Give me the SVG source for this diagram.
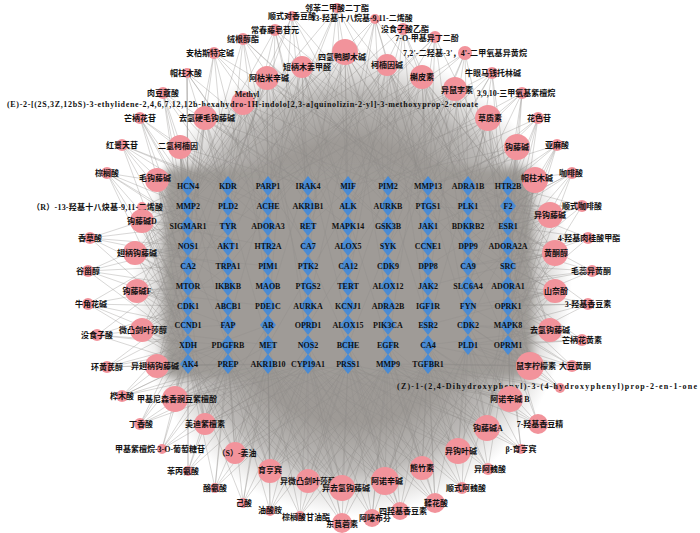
<svg xmlns="http://www.w3.org/2000/svg" width="700" height="533" viewBox="0 0 700 533">
<defs>
<style>
.e path{fill:none;stroke:#8e8c8a;stroke-width:.5;stroke-opacity:.7}
.n circle{fill:#f2939b}
.t use{fill:#4a8bd4}
.tl{font:bold 8px "Liberation Serif",serif;text-anchor:middle;fill:#111}
.cl{font:bold 8px "Liberation Serif","Noto Sans CJK SC",sans-serif;text-anchor:middle;fill:#111}
.st{text-anchor:start}
</style>
<radialGradient id="gd">
<stop offset="0" stop-color="#9c9894" stop-opacity="1"/>
<stop offset=".6" stop-color="#9e9a96" stop-opacity="1"/>
<stop offset=".8" stop-color="#a6a3a0" stop-opacity=".75"/>
<stop offset=".92" stop-color="#b4b1ae" stop-opacity=".3"/>
<stop offset="1" stop-color="#b8b5b3" stop-opacity="0"/>
</radialGradient>
<filter id="bl" x="-10%" y="-10%" width="120%" height="120%"><feGaussianBlur stdDeviation="4"/></filter>
<path id="dm" d="M0-10L8 0 0 10-8 0Z"/>
</defs>
<rect width="700" height="533" fill="#fff"/>
<ellipse cx="352" cy="282" rx="220" ry="235" fill="url(#gd)"/>
<rect x="164" y="168" width="368" height="210" rx="8" fill="#9f9b97" filter="url(#bl)"/>
<g id="edges" class="e">
<path d="M337 8L188 186M337 8L268 186M337 8L348 206M337 8L428 186M337 8L508 226M337 8L308 266M337 8L388 306M337 8L228 246"/>
<path d="M292 16L228 186M292 16L308 206M292 16L388 186M292 16L468 226M292 16L188 246M292 16L348 286M292 16L268 325"/>
<path d="M375 19L188 206M375 19L268 186M375 19L348 186M375 19L428 206M375 19L508 186M375 19L388 266M375 19L308 306M375 19L468 325"/>
<path d="M275 30L188 186M275 30L228 226M275 30L308 186M275 30L388 206M275 30L468 186M275 30L268 286M275 30L348 325"/>
<path d="M403 29L228 186M403 29L308 226M403 29L388 186M403 29L468 206M403 29L508 266M403 29L348 246M403 29L428 306"/>
<path d="M435 37L268 206M435 37L348 186M435 37L428 226M435 37L508 186M435 37L468 286M435 37L388 345M435 37L188 266"/>
<path d="M243 39L188 226M243 39L228 186M243 39L268 246M243 39L348 186M243 39L428 206M243 39L308 306M243 39L508 286"/>
<path d="M345 52L188 186M345 52L228 206M345 52L268 186M345 52L308 226M345 52L348 186M345 52L388 206M345 52L428 186M345 52L468 246M345 52L508 206M345 52L348 266M345 52L268 306M345 52L428 325"/>
<path d="M465 53L228 206M465 53L308 186M465 53L388 226M465 53L468 186M465 53L508 246M465 53L428 286M465 53L348 345"/>
<path d="M214 53L188 186M214 53L188 246M214 53L228 206M214 53L308 186M214 53L388 226M214 53L268 266M214 53L468 206"/>
<path d="M302 67L188 206M302 67L228 186M302 67L268 226M302 67L308 186M302 67L348 206M302 67L388 186M302 67L428 226M302 67L468 186M302 67L508 266M302 67L308 286M302 67L228 325M302 67L388 345"/>
<path d="M387 65L188 186M387 65L268 206M387 65L308 186M387 65L348 226M387 65L388 186M387 65L428 206M387 65L468 186M387 65L508 226M387 65L348 286M387 65L428 325M387 65L228 266M387 65L508 345"/>
<path d="M492 73L268 186M492 73L348 206M492 73L428 186M492 73L468 226M492 73L508 186M492 73L508 286M492 73L388 246"/>
<path d="M187 73L188 186M187 73L188 226M187 73L228 206M187 73L268 186M187 73L308 246M187 73L188 286M187 73L348 206"/>
<path d="M267 78L188 206M267 78L228 186M267 78L268 206M267 78L308 186M267 78L348 246M267 78L388 206M267 78L428 186M267 78L268 266M267 78L188 306M267 78L468 226M267 78L308 345"/>
<path d="M422 77L228 186M422 77L308 206M422 77L348 186M422 77L388 226M422 77L428 186M422 77L468 206M422 77L508 186M422 77L508 246M422 77L428 266M422 77L348 306M422 77L268 345M422 77L468 325"/>
<path d="M455 89L268 186M455 89L308 226M455 89L348 206M455 89L388 186M455 89L428 206M455 89L468 186M455 89L508 206M455 89L508 266M455 89L468 306M455 89L388 286M455 89L308 325"/>
<path d="M522 93L348 186M522 93L388 206M522 93L428 186M522 93L468 206M522 93L508 186M522 93L508 226M522 93L508 306"/>
<path d="M163 93L188 186M163 93L188 226M163 93L228 186M163 93L268 206M163 93L188 266M163 93L308 186M163 93L228 286"/>
<path d="M243 103L188 186M243 103L188 206M243 103L228 186M243 103L228 226M243 103L268 186M243 103L308 206M243 103L348 186M243 103L388 226M243 103L188 286M243 103L268 306M243 103L428 186M243 103L348 345"/>
<path d="M205 118L188 186M205 118L188 206M205 118L188 246M205 118L228 186M205 118L228 226M205 118L268 206M205 118L308 186M205 118L188 306M205 118L348 226M205 118L268 345M205 118L388 186"/>
<path d="M488 118L308 186M488 118L348 206M488 118L388 186M488 118L428 206M488 118L468 186M488 118L508 186M488 118L508 226M488 118L508 286M488 118L468 246M488 118L428 325M488 118L508 345"/>
<path d="M140 118L188 186M140 118L188 206M140 118L188 246M140 118L228 186M140 118L268 206M140 118L188 286M140 118L228 266"/>
<path d="M538 118L388 186M538 118L428 206M538 118L468 186M538 118L508 206M538 118L508 246M538 118L468 286M538 118L508 325"/>
<path d="M180 147L188 186M180 147L188 206M180 147L188 226M180 147L188 266M180 147L228 186M180 147L228 206M180 147L268 226M180 147L188 306M180 147L308 186M180 147L228 345M180 147L188 364"/>
<path d="M122 145L188 186M122 145L188 226M122 145L188 206M122 145L228 186M122 145L188 266M122 145L188 325M122 145L268 206"/>
<path d="M517 147L348 186M517 147L388 206M517 147L428 186M517 147L468 206M517 147L508 186M517 147L508 206M517 147L508 226M517 147L508 266M517 147L468 286M517 147L508 325M517 147L428 246"/>
<path d="M557 145L428 186M557 145L468 206M557 145L508 186M557 145L508 226M557 145L508 266M557 145L468 325M557 145L508 306"/>
<path d="M572 173L468 186M572 173L508 206M572 173L508 246M572 173L468 226M572 173L508 286M572 173L428 266M572 173L508 345"/>
<path d="M107 173L188 186M107 173L188 226M107 173L188 206M107 173L188 266M107 173L228 246M107 173L188 345M107 173L188 306"/>
<path d="M157 180L188 186M157 180L188 206M157 180L188 226M157 180L188 246M157 180L188 286M157 180L228 206M157 180L228 266M157 180L188 325M157 180L268 226M157 180L188 364M157 180L228 345"/>
<path d="M535 180L468 186M535 180L508 186M535 180L508 206M535 180L468 206M535 180L508 226M535 180L508 246M535 180L468 266M535 180L508 286M535 180L508 325M535 180L428 226M535 180L508 345"/>
<path d="M142 207L188 186M142 207L188 206M142 207L188 226M142 207L188 266M142 207L228 226M142 207L188 325M142 207L188 364"/>
<path d="M582 206L468 206M582 206L508 186M582 206L508 226M582 206L508 206M582 206L508 266M582 206L468 246M582 206L508 325"/>
<path d="M550 215L468 186M550 215L508 186M550 215L508 206M550 215L508 226M550 215L468 226M550 215L508 246M550 215L508 266M550 215L468 286M550 215L508 306M550 215L508 345M550 215L428 206"/>
<path d="M142 221L188 186M142 221L188 206M142 221L188 226M142 221L188 246M142 221L188 266M142 221L188 306M142 221L228 226M142 221L228 286M142 221L188 345M142 221L188 364M142 221L268 246"/>
<path d="M90 238L188 206M90 238L188 226M90 238L188 246M90 238L188 286M90 238L188 325M90 238L228 266"/>
<path d="M588 238L508 206M588 238L508 226M588 238L508 246M588 238L508 266M588 238L508 306M588 238L468 266"/>
<path d="M135 253L188 186M135 253L188 226M135 253L188 246M135 253L188 266M135 253L188 286M135 253L188 325M135 253L228 246M135 253L228 306M135 253L188 364M135 253L268 266M135 253L188 206"/>
<path d="M555 253L508 186M555 253L508 226M555 253L508 246M555 253L508 266M555 253L508 286M555 253L468 266M555 253L508 325M555 253L468 206M555 253L508 345M555 253L428 286"/>
<path d="M88 271L188 226M88 271L188 246M88 271L188 266M88 271L188 286M88 271L188 306M88 271L188 345"/>
<path d="M592 271L508 226M592 271L508 246M592 271L508 266M592 271L508 286M592 271L508 306M592 271L468 286"/>
<path d="M137 291L188 206M137 291L188 246M137 291L188 266M137 291L188 286M137 291L188 306M137 291L188 325M137 291L188 345M137 291L228 286M137 291L228 325M137 291L188 364M137 291L268 306"/>
<path d="M555 291L508 206M555 291L508 246M555 291L508 266M555 291L508 286M555 291L508 306M555 291L508 325M555 291L468 306M555 291L508 345M555 291L468 246M555 291L428 325"/>
<path d="M88 304L188 246M88 304L188 286M88 304L188 306M88 304L188 325M88 304L188 345M88 304L188 364"/>
<path d="M588 304L508 246M588 304L508 286M588 304L508 306M588 304L508 325M588 304L508 345M588 304L468 306"/>
<path d="M550 330L508 226M550 330L508 266M550 330L508 286M550 330L508 306M550 330L508 325M550 330L508 345M550 330L468 325M550 330L468 345M550 330L428 345M550 330L508 206"/>
<path d="M142 330L188 226M142 330L188 266M142 330L188 286M142 330L188 306M142 330L188 325M142 330L188 345M142 330L188 364M142 330L228 325M142 330L228 364M142 330L268 345M142 330L228 266"/>
<path d="M97 335L188 266M97 335L188 306M97 335L188 325M97 335L188 345M97 335L188 364M97 335L228 345"/>
<path d="M582 340L508 286M582 340L508 306M582 340L508 325M582 340L508 345M582 340L468 345M582 340L468 325"/>
<path d="M107 367L188 306M107 367L188 325M107 367L188 345M107 367L188 364M107 367L228 364M107 367L228 345"/>
<path d="M157 366L188 286M157 366L188 325M157 366L188 345M157 366L188 364M157 366L228 345M157 366L228 364M157 366L268 364M157 366L188 246M157 366L268 325M157 366L308 364"/>
<path d="M530 366L508 266M530 366L508 306M530 366L508 325M530 366L508 345M530 366L468 345M530 366L468 325M530 366L428 345M530 366L428 364M530 366L388 364M530 366L508 226"/>
<path d="M572 366L508 306M572 366L508 325M572 366L508 345M572 366L468 345M572 366L428 364M572 366L468 306"/>
<path d="M560 388L508 325M560 388L508 345M560 388L468 345M560 388L428 364M560 388L388 364M560 388L468 325"/>
<path d="M510 399L508 306M510 399L508 345M510 399L468 325M510 399L468 345M510 399L428 345M510 399L428 364M510 399L388 364M510 399L348 364M510 399L508 266M510 399L308 364"/>
<path d="M175 399L188 325M175 399L188 345M175 399L188 364M175 399L228 345M175 399L228 364M175 399L268 364M175 399L188 286M175 399L308 364M175 399L268 345M175 399L348 364"/>
<path d="M122 396L188 325M122 396L188 345M122 396L188 364M122 396L228 364M122 396L268 364M122 396L228 345"/>
<path d="M140 424L188 345M140 424L188 364M140 424L228 364M140 424L268 364M140 424L188 325M140 424L308 364"/>
<path d="M538 424L508 325M538 424L508 345M538 424L468 345M538 424L428 345M538 424L428 364M538 424L388 364"/>
<path d="M487 428L508 306M487 428L508 345M487 428L468 325M487 428L468 345M487 428L428 345M487 428L428 364M487 428L388 364M487 428L348 364M487 428L308 364M487 428L508 266M487 428L388 345"/>
<path d="M205 424L188 325M205 424L188 345M205 424L188 364M205 424L228 345M205 424L228 364M205 424L268 364M205 424L308 364M205 424L268 325M205 424L348 364M205 424L188 286"/>
<path d="M162 449L188 345M162 449L188 364M162 449L228 364M162 449L268 364M162 449L308 364M162 449L228 345"/>
<path d="M521 449L468 345M521 449L508 345M521 449L428 364M521 449L388 364M521 449L348 364M521 449L508 325"/>
<path d="M458 451L508 325M458 451L468 345M458 451L428 345M458 451L428 364M458 451L388 364M458 451L348 364M458 451L308 364M458 451L388 345M458 451L468 306M458 451L268 364"/>
<path d="M488 469L508 345M488 469L468 345M488 469L428 364M488 469L388 364M488 469L348 364M488 469L428 345"/>
<path d="M235 453L188 345M235 453L188 364M235 453L228 364M235 453L268 364M235 453L308 364M235 453L348 364M235 453L228 345M235 453L268 325M235 453L388 364M235 453L308 345"/>
<path d="M188 471L188 364M188 471L228 364M188 471L268 364M188 471L308 364M188 471L188 345M188 471L228 345"/>
<path d="M422 468L428 364M422 468L388 364M422 468L348 364M422 468L308 364M422 468L268 364M422 468L428 345M422 468L468 345M422 468L388 345M422 468L348 345M422 468L508 345"/>
<path d="M270 471L188 364M270 471L228 364M270 471L268 364M270 471L308 364M270 471L348 364M270 471L388 364M270 471L228 345M270 471L308 345M270 471L268 345M270 471L428 364"/>
<path d="M462 488L428 364M462 488L388 364M462 488L348 364M462 488L468 345M462 488L308 364M462 488L508 345"/>
<path d="M308 481L188 364M308 481L228 364M308 481L268 364M308 481L308 364M308 481L348 364M308 481L388 364M308 481L428 364M308 481L268 345M308 481L348 345M308 481L188 345"/>
<path d="M385 481L228 364M385 481L268 364M385 481L308 364M385 481L348 364M385 481L388 364M385 481L428 364M385 481L348 345M385 481L428 345M385 481L468 345M385 481L308 345M385 481L508 345"/>
<path d="M342 488L188 364M342 488L228 364M342 488L268 364M342 488L308 364M342 488L348 364M342 488L388 364M342 488L428 364M342 488L308 345M342 488L388 345M342 488L228 345"/>
<path d="M215 488L188 364M215 488L228 364M215 488L268 364M215 488L308 364M215 488L228 345M215 488L348 364"/>
<path d="M243 503L188 364M243 503L228 364M243 503L268 364M243 503L308 364M243 503L348 364M243 503L268 345"/>
<path d="M435 503L348 364M435 503L388 364M435 503L428 364M435 503L308 364M435 503L268 364M435 503L468 345M435 503L428 345M435 503L388 345"/>
<path d="M270 511L228 364M270 511L268 364M270 511L308 364M270 511L348 364M270 511L388 364M270 511L268 345"/>
<path d="M300 516L228 364M300 516L268 364M300 516L308 364M300 516L348 364M300 516L388 364M300 516L428 364"/>
<path d="M400 511L268 364M400 511L308 364M400 511L348 364M400 511L388 364M400 511L428 364M400 511L348 345M400 511L468 345"/>
<path d="M342 523L228 364M342 523L268 364M342 523L308 364M342 523L348 364M342 523L388 364M342 523L428 364M342 523L308 345"/>
<path d="M372 518L268 364M372 518L308 364M372 518L348 364M372 518L388 364M372 518L428 364M372 518L388 345"/>
</g>
<g id="targets" class="t">
<g id="t-HCN4"><use href="#dm" x="188" y="186"/><text class="tl" x="188" y="189">HCN4</text></g>
<g id="t-KDR"><use href="#dm" x="228" y="186"/><text class="tl" x="228" y="189">KDR</text></g>
<g id="t-PARP1"><use href="#dm" x="268" y="186"/><text class="tl" x="268" y="189">PARP1</text></g>
<g id="t-IRAK4"><use href="#dm" x="308" y="186"/><text class="tl" x="308" y="189">IRAK4</text></g>
<g id="t-MIF"><use href="#dm" x="348" y="186"/><text class="tl" x="348" y="189">MIF</text></g>
<g id="t-PIM2"><use href="#dm" x="388" y="186"/><text class="tl" x="388" y="189">PIM2</text></g>
<g id="t-MMP13"><use href="#dm" x="428" y="186"/><text class="tl" x="428" y="189">MMP13</text></g>
<g id="t-ADRA1B"><use href="#dm" x="468" y="186"/><text class="tl" x="468" y="189">ADRA1B</text></g>
<g id="t-HTR2B"><use href="#dm" x="508" y="186"/><text class="tl" x="508" y="189">HTR2B</text></g>
<g id="t-MMP2"><use href="#dm" x="188" y="206"/><text class="tl" x="188" y="209">MMP2</text></g>
<g id="t-PLD2"><use href="#dm" x="228" y="206"/><text class="tl" x="228" y="209">PLD2</text></g>
<g id="t-ACHE"><use href="#dm" x="268" y="206"/><text class="tl" x="268" y="209">ACHE</text></g>
<g id="t-AKR1B1"><use href="#dm" x="308" y="206"/><text class="tl" x="308" y="209">AKR1B1</text></g>
<g id="t-ALK"><use href="#dm" x="348" y="206"/><text class="tl" x="348" y="209">ALK</text></g>
<g id="t-AURKB"><use href="#dm" x="388" y="206"/><text class="tl" x="388" y="209">AURKB</text></g>
<g id="t-PTGS1"><use href="#dm" x="428" y="206"/><text class="tl" x="428" y="209">PTGS1</text></g>
<g id="t-PLK1"><use href="#dm" x="468" y="206"/><text class="tl" x="468" y="209">PLK1</text></g>
<g id="t-F2"><use href="#dm" x="508" y="206"/><text class="tl" x="508" y="209">F2</text></g>
<g id="t-SIGMAR1"><use href="#dm" x="188" y="226"/><text class="tl" x="188" y="229">SIGMAR1</text></g>
<g id="t-TYR"><use href="#dm" x="228" y="226"/><text class="tl" x="228" y="229">TYR</text></g>
<g id="t-ADORA3"><use href="#dm" x="268" y="226"/><text class="tl" x="268" y="229">ADORA3</text></g>
<g id="t-RET"><use href="#dm" x="308" y="226"/><text class="tl" x="308" y="229">RET</text></g>
<g id="t-MAPK14"><use href="#dm" x="348" y="226"/><text class="tl" x="348" y="229">MAPK14</text></g>
<g id="t-GSK3B"><use href="#dm" x="388" y="226"/><text class="tl" x="388" y="229">GSK3B</text></g>
<g id="t-JAK1"><use href="#dm" x="428" y="226"/><text class="tl" x="428" y="229">JAK1</text></g>
<g id="t-BDKRB2"><use href="#dm" x="468" y="226"/><text class="tl" x="468" y="229">BDKRB2</text></g>
<g id="t-ESR1"><use href="#dm" x="508" y="226"/><text class="tl" x="508" y="229">ESR1</text></g>
<g id="t-NOS1"><use href="#dm" x="188" y="246"/><text class="tl" x="188" y="249">NOS1</text></g>
<g id="t-AKT1"><use href="#dm" x="228" y="246"/><text class="tl" x="228" y="249">AKT1</text></g>
<g id="t-HTR2A"><use href="#dm" x="268" y="246"/><text class="tl" x="268" y="249">HTR2A</text></g>
<g id="t-CA7"><use href="#dm" x="308" y="246"/><text class="tl" x="308" y="249">CA7</text></g>
<g id="t-ALOX5"><use href="#dm" x="348" y="246"/><text class="tl" x="348" y="249">ALOX5</text></g>
<g id="t-SYK"><use href="#dm" x="388" y="246"/><text class="tl" x="388" y="249">SYK</text></g>
<g id="t-CCNE1"><use href="#dm" x="428" y="246"/><text class="tl" x="428" y="249">CCNE1</text></g>
<g id="t-DPP9"><use href="#dm" x="468" y="246"/><text class="tl" x="468" y="249">DPP9</text></g>
<g id="t-ADORA2A"><use href="#dm" x="508" y="246"/><text class="tl" x="508" y="249">ADORA2A</text></g>
<g id="t-CA2"><use href="#dm" x="188" y="266"/><text class="tl" x="188" y="269">CA2</text></g>
<g id="t-TRPA1"><use href="#dm" x="228" y="266"/><text class="tl" x="228" y="269">TRPA1</text></g>
<g id="t-PIM1"><use href="#dm" x="268" y="266"/><text class="tl" x="268" y="269">PIM1</text></g>
<g id="t-PTK2"><use href="#dm" x="308" y="266"/><text class="tl" x="308" y="269">PTK2</text></g>
<g id="t-CA12"><use href="#dm" x="348" y="266"/><text class="tl" x="348" y="269">CA12</text></g>
<g id="t-CDK9"><use href="#dm" x="388" y="266"/><text class="tl" x="388" y="269">CDK9</text></g>
<g id="t-DPP8"><use href="#dm" x="428" y="266"/><text class="tl" x="428" y="269">DPP8</text></g>
<g id="t-CA9"><use href="#dm" x="468" y="266"/><text class="tl" x="468" y="269">CA9</text></g>
<g id="t-SRC"><use href="#dm" x="508" y="266"/><text class="tl" x="508" y="269">SRC</text></g>
<g id="t-MTOR"><use href="#dm" x="188" y="286"/><text class="tl" x="188" y="289">MTOR</text></g>
<g id="t-IKBKB"><use href="#dm" x="228" y="286"/><text class="tl" x="228" y="289">IKBKB</text></g>
<g id="t-MAOB"><use href="#dm" x="268" y="286"/><text class="tl" x="268" y="289">MAOB</text></g>
<g id="t-PTGS2"><use href="#dm" x="308" y="286"/><text class="tl" x="308" y="289">PTGS2</text></g>
<g id="t-TERT"><use href="#dm" x="348" y="286"/><text class="tl" x="348" y="289">TERT</text></g>
<g id="t-ALOX12"><use href="#dm" x="388" y="286"/><text class="tl" x="388" y="289">ALOX12</text></g>
<g id="t-JAK2"><use href="#dm" x="428" y="286"/><text class="tl" x="428" y="289">JAK2</text></g>
<g id="t-SLC6A4"><use href="#dm" x="468" y="286"/><text class="tl" x="468" y="289">SLC6A4</text></g>
<g id="t-ADORA1"><use href="#dm" x="508" y="286"/><text class="tl" x="508" y="289">ADORA1</text></g>
<g id="t-CDK1"><use href="#dm" x="188" y="306"/><text class="tl" x="188" y="309">CDK1</text></g>
<g id="t-ABCB1"><use href="#dm" x="228" y="306"/><text class="tl" x="228" y="309">ABCB1</text></g>
<g id="t-PDE1C"><use href="#dm" x="268" y="306"/><text class="tl" x="268" y="309">PDE1C</text></g>
<g id="t-AURKA"><use href="#dm" x="308" y="306"/><text class="tl" x="308" y="309">AURKA</text></g>
<g id="t-KCNJ1"><use href="#dm" x="348" y="306"/><text class="tl" x="348" y="309">KCNJ1</text></g>
<g id="t-ADRA2B"><use href="#dm" x="388" y="306"/><text class="tl" x="388" y="309">ADRA2B</text></g>
<g id="t-IGF1R"><use href="#dm" x="428" y="306"/><text class="tl" x="428" y="309">IGF1R</text></g>
<g id="t-FYN"><use href="#dm" x="468" y="306"/><text class="tl" x="468" y="309">FYN</text></g>
<g id="t-OPRK1"><use href="#dm" x="508" y="306"/><text class="tl" x="508" y="309">OPRK1</text></g>
<g id="t-CCND1"><use href="#dm" x="188" y="325"/><text class="tl" x="188" y="328">CCND1</text></g>
<g id="t-FAP"><use href="#dm" x="228" y="325"/><text class="tl" x="228" y="328">FAP</text></g>
<g id="t-AR"><use href="#dm" x="268" y="325"/><text class="tl" x="268" y="328">AR</text></g>
<g id="t-OPRD1"><use href="#dm" x="308" y="325"/><text class="tl" x="308" y="328">OPRD1</text></g>
<g id="t-ALOX15"><use href="#dm" x="348" y="325"/><text class="tl" x="348" y="328">ALOX15</text></g>
<g id="t-PIK3CA"><use href="#dm" x="388" y="325"/><text class="tl" x="388" y="328">PIK3CA</text></g>
<g id="t-ESR2"><use href="#dm" x="428" y="325"/><text class="tl" x="428" y="328">ESR2</text></g>
<g id="t-CDK2"><use href="#dm" x="468" y="325"/><text class="tl" x="468" y="328">CDK2</text></g>
<g id="t-MAPK8"><use href="#dm" x="508" y="325"/><text class="tl" x="508" y="328">MAPK8</text></g>
<g id="t-XDH"><use href="#dm" x="188" y="345"/><text class="tl" x="188" y="348">XDH</text></g>
<g id="t-PDGFRB"><use href="#dm" x="228" y="345"/><text class="tl" x="228" y="348">PDGFRB</text></g>
<g id="t-MET"><use href="#dm" x="268" y="345"/><text class="tl" x="268" y="348">MET</text></g>
<g id="t-NOS2"><use href="#dm" x="308" y="345"/><text class="tl" x="308" y="348">NOS2</text></g>
<g id="t-BCHE"><use href="#dm" x="348" y="345"/><text class="tl" x="348" y="348">BCHE</text></g>
<g id="t-EGFR"><use href="#dm" x="388" y="345"/><text class="tl" x="388" y="348">EGFR</text></g>
<g id="t-CA4"><use href="#dm" x="428" y="345"/><text class="tl" x="428" y="348">CA4</text></g>
<g id="t-PLD1"><use href="#dm" x="468" y="345"/><text class="tl" x="468" y="348">PLD1</text></g>
<g id="t-OPRM1"><use href="#dm" x="508" y="345"/><text class="tl" x="508" y="348">OPRM1</text></g>
<g id="t-AK4"><use href="#dm" x="188" y="364"/><text class="tl" x="190" y="367">AK4</text></g>
<g id="t-PREP"><use href="#dm" x="228" y="364"/><text class="tl" x="228" y="367">PREP</text></g>
<g id="t-AKR1B10"><use href="#dm" x="268" y="364"/><text class="tl" x="268" y="367">AKR1B10</text></g>
<g id="t-CYP19A1"><use href="#dm" x="308" y="364"/><text class="tl" x="308" y="367">CYP19A1</text></g>
<g id="t-PRSS1"><use href="#dm" x="348" y="364"/><text class="tl" x="348" y="367">PRSS1</text></g>
<g id="t-MMP9"><use href="#dm" x="388" y="364"/><text class="tl" x="388" y="367">MMP9</text></g>
<g id="t-TGFBR1"><use href="#dm" x="428" y="364"/><text class="tl" x="428" y="367">TGFBR1</text></g>
</g>
<g id="compounds" class="n">
<g id="c1"><circle cx="337" cy="8" r="5"/><text class="cl" x="337" y="11">邻苯二甲酸二丁酯</text></g>
<g id="c2"><circle cx="292" cy="16" r="5"/><text class="cl" x="292" y="19">顺式对香豆酸</text></g>
<g id="c3"><circle cx="375" cy="19" r="5"/><text class="cl" x="362" y="21">13-羟基十八烷基-9,11-二烯酸</text></g>
<g id="c4"><circle cx="275" cy="30" r="6"/><text class="cl" x="275" y="33">常春藤皂苷元</text></g>
<g id="c5"><circle cx="403" cy="29" r="6"/><text class="cl" x="405" y="32">没食子酸乙酯</text></g>
<g id="c6"><circle cx="435" cy="37" r="6"/><text class="cl" x="427" y="41">7-O-甲基异丁二酚</text></g>
<g id="c7"><circle cx="243" cy="39" r="6"/><text class="cl" x="243" y="42">绒根醇酯</text></g>
<g id="c8"><circle cx="345" cy="52" r="13"/><text class="cl" x="342" y="60">四氢鸭脚木碱</text></g>
<g id="c9"><circle cx="465" cy="53" r="7"/><text class="cl st" x="403" y="56" textLength="124" lengthAdjust="spacing">7,2'-二羟基-3'，4'-二甲氧基异黄烷</text></g>
<g id="c10"><circle cx="214" cy="53" r="6"/><text class="cl" x="210" y="56">安枯斯特定碱</text></g>
<g id="c11"><circle cx="302" cy="67" r="11"/><text class="cl" x="307" y="70">短柄木姜甲醛</text></g>
<g id="c12"><circle cx="387" cy="65" r="11"/><text class="cl" x="387" y="68">柯楠因碱</text></g>
<g id="c13"><circle cx="492" cy="73" r="6"/><text class="cl" x="493" y="76">牛眼马钱托林碱</text></g>
<g id="c14"><circle cx="187" cy="73" r="5"/><text class="cl" x="186" y="76">帽柱木酸</text></g>
<g id="c15"><circle cx="267" cy="78" r="12"/><text class="cl" x="269" y="81">阿枯米辛碱</text></g>
<g id="c16"><circle cx="422" cy="77" r="12"/><text class="cl" x="422" y="80">槲皮素</text></g>
<g id="c17"><circle cx="455" cy="89" r="12"/><text class="cl" x="457" y="93">异鼠李素</text></g>
<g id="c18"><circle cx="522" cy="93" r="6"/><text class="cl" x="516" y="96">3,9,10-三甲氧基紫檀烷</text></g>
<g id="c19"><circle cx="163" cy="93" r="6"/><text class="cl" x="163" y="96">肉豆蔻酸</text></g>
<g id="c20"><circle cx="243" cy="103" r="12"/><text class="cl" x="247" y="97">Methyl</text><text class="cl st" x="7" y="107" textLength="471" lengthAdjust="spacing">(E)-2-[(2S,3Z,12bS)-3-ethylidene-2,4,6,7,12,12b-hexahydro-1H-indolo[2,3-a]quinolizin-2-yl]-3-methoxyprop-2-enoate</text></g>
<g id="c21"><circle cx="205" cy="118" r="12"/><text class="cl" x="207" y="121">去氢硬毛钩藤碱</text></g>
<g id="c22"><circle cx="488" cy="118" r="13"/><text class="cl" x="490" y="121">草质素</text></g>
<g id="c23"><circle cx="140" cy="118" r="6"/><text class="cl" x="140" y="121">芒柄花苷</text></g>
<g id="c24"><circle cx="538" cy="118" r="6"/><text class="cl" x="539" y="121">花色苷</text></g>
<g id="c25"><circle cx="180" cy="147" r="12"/><text class="cl" x="178" y="149">二氢柯楠因</text></g>
<g id="c26"><circle cx="122" cy="145" r="6"/><text class="cl" x="122" y="148">红景天苷</text></g>
<g id="c27"><circle cx="517" cy="147" r="13"/><text class="cl" x="517" y="150">钩藤碱</text></g>
<g id="c28"><circle cx="557" cy="145" r="6"/><text class="cl" x="557" y="148">亚麻酸</text></g>
<g id="c29"><circle cx="572" cy="173" r="6"/><text class="cl" x="571" y="176">咖啡酸</text></g>
<g id="c30"><circle cx="107" cy="173" r="6"/><text class="cl" x="107" y="176">棕榈酸</text></g>
<g id="c31"><circle cx="157" cy="180" r="12"/><text class="cl" x="155" y="181">毛钩藤碱</text></g>
<g id="c32"><circle cx="535" cy="180" r="13"/><text class="cl" x="537" y="181">帽柱木碱</text></g>
<g id="c33"><circle cx="142" cy="207" r="5"/><text class="cl st" x="32" y="210" textLength="131" lengthAdjust="spacing">（R）-13-羟基十八炔基-9,11-二烯酸</text></g>
<g id="c34"><circle cx="582" cy="206" r="6"/><text class="cl" x="582" y="209">顺式咖啡酸</text></g>
<g id="c35"><circle cx="550" cy="215" r="13"/><text class="cl" x="550" y="218">异钩藤碱</text></g>
<g id="c36"><circle cx="142" cy="221" r="12"/><text class="cl" x="142" y="224">钩藤碱D</text></g>
<g id="c37"><circle cx="90" cy="238" r="6"/><text class="cl" x="90" y="241">香草酸</text></g>
<g id="c38"><circle cx="588" cy="238" r="6"/><text class="cl" x="589" y="241">4-羟基肉桂酸甲酯</text></g>
<g id="c39"><circle cx="135" cy="253" r="12"/><text class="cl" x="137" y="256">翅柄钩藤碱</text></g>
<g id="c40"><circle cx="555" cy="253" r="13"/><text class="cl" x="556" y="256">黄酮醇</text></g>
<g id="c41"><circle cx="88" cy="271" r="6"/><text class="cl" x="88" y="274">谷甾醇</text></g>
<g id="c42"><circle cx="592" cy="271" r="6"/><text class="cl" x="591" y="274">毛蕊异黄酮</text></g>
<g id="c43"><circle cx="137" cy="291" r="12"/><text class="cl" x="137" y="294">钩藤碱F</text></g>
<g id="c44"><circle cx="555" cy="291" r="12"/><text class="cl" x="556" y="294">山奈酚</text></g>
<g id="c45"><circle cx="88" cy="304" r="6"/><text class="cl" x="91" y="307">牛角花碱</text></g>
<g id="c46"><circle cx="588" cy="304" r="6"/><text class="cl" x="588" y="307">3-羟基香豆素</text></g>
<g id="c47"><circle cx="550" cy="330" r="12"/><text class="cl" x="550" y="333">去氢钩藤碱</text></g>
<g id="c48"><circle cx="142" cy="330" r="12"/><text class="cl" x="143" y="333">微凸剑叶莎醇</text></g>
<g id="c49"><circle cx="97" cy="335" r="6"/><text class="cl" x="97" y="338">没食子酸</text></g>
<g id="c50"><circle cx="582" cy="340" r="6"/><text class="cl" x="582" y="343">芒柄花黄素</text></g>
<g id="c51"><circle cx="107" cy="367" r="6"/><text class="cl" x="107" y="370">环黄芪醇</text></g>
<g id="c52"><circle cx="157" cy="366" r="12"/><text class="cl" x="155" y="369">异翅柄钩藤碱</text></g>
<g id="c53"><circle cx="530" cy="366" r="14"/><text class="cl" x="536" y="369">鼠李柠檬素</text></g>
<g id="c54"><circle cx="572" cy="366" r="6"/><text class="cl" x="575" y="369">大豆黄酮</text></g>
<g id="c55"><circle cx="560" cy="388" r="5"/><text class="cl st" x="397" y="389" textLength="300" lengthAdjust="spacing">(Z)-1-(2,4-Dihydroxyphenyl)-3-(4-hydroxyphenyl)prop-2-en-1-one</text></g>
<g id="c56"><circle cx="510" cy="399" r="13"/><text class="cl" x="510" y="402">阿诺辛碱 B</text></g>
<g id="c57"><circle cx="175" cy="399" r="13"/><text class="cl" x="177" y="402">甲基尼森香豌豆紫檀酚</text></g>
<g id="c58"><circle cx="122" cy="396" r="6"/><text class="cl" x="122" y="399">桦木酸</text></g>
<g id="c59"><circle cx="140" cy="424" r="6"/><text class="cl" x="141" y="427">丁香酸</text></g>
<g id="c60"><circle cx="538" cy="424" r="10"/><text class="cl" x="540" y="427">7-羟基香豆精</text></g>
<g id="c61"><circle cx="487" cy="428" r="13"/><text class="cl" x="488" y="431">钩藤碱A</text></g>
<g id="c62"><circle cx="205" cy="424" r="11"/><text class="cl" x="205" y="427">美迪紫檀素</text></g>
<g id="c63"><circle cx="162" cy="449" r="5"/><text class="cl" x="160" y="452">甲基紫檀烷-3-O-葡萄糖苷</text></g>
<g id="c64"><circle cx="521" cy="449" r="5"/><text class="cl" x="521" y="452">β-育亨宾</text></g>
<g id="c65"><circle cx="458" cy="451" r="13"/><text class="cl" x="461" y="454">异钩叶碱</text></g>
<g id="c66"><circle cx="488" cy="469" r="6"/><text class="cl" x="490" y="472">异阿魏酸</text></g>
<g id="c67"><circle cx="235" cy="453" r="11"/><text class="cl" x="237" y="456">（S）-姜油</text></g>
<g id="c68"><circle cx="188" cy="471" r="5"/><text class="cl" x="183" y="474">苯丙氨酸</text></g>
<g id="c69"><circle cx="422" cy="468" r="12"/><text class="cl" x="422" y="471">熊竹素</text></g>
<g id="c70"><circle cx="270" cy="471" r="12"/><text class="cl" x="270" y="473">育亨宾</text></g>
<g id="c71"><circle cx="462" cy="488" r="6"/><text class="cl" x="466" y="491">顺式阿魏酸</text></g>
<g id="c72"><circle cx="308" cy="481" r="12"/><text class="cl" x="308" y="484">异微凸剑叶莎醇</text></g>
<g id="c73"><circle cx="385" cy="481" r="14"/><text class="cl" x="387" y="484">阿诺辛碱</text></g>
<g id="c74"><circle cx="342" cy="488" r="13"/><text class="cl" x="346" y="491">异去氢钩藤碱</text></g>
<g id="c75"><circle cx="215" cy="488" r="5"/><text class="cl" x="215" y="491">酪氨酸</text></g>
<g id="c76"><circle cx="243" cy="503" r="5"/><text class="cl" x="244" y="506">己酸</text></g>
<g id="c77"><circle cx="435" cy="503" r="10"/><text class="cl" x="436" y="506">鞣花酸</text></g>
<g id="c78"><circle cx="270" cy="511" r="5"/><text class="cl" x="270" y="513">油酸胺</text></g>
<g id="c79"><circle cx="300" cy="516" r="5"/><text class="cl" x="306" y="520">棕榈酸甘油酯</text></g>
<g id="c80"><circle cx="400" cy="511" r="9"/><text class="cl" x="403" y="514">四羟基香豆素</text></g>
<g id="c81"><circle cx="342" cy="523" r="10"/><text class="cl" x="342" y="527">东莨菪素</text></g>
<g id="c82"><circle cx="372" cy="518" r="9"/><text class="cl" x="375" y="521">阿嗪布芬</text></g>
</g>
</svg>
